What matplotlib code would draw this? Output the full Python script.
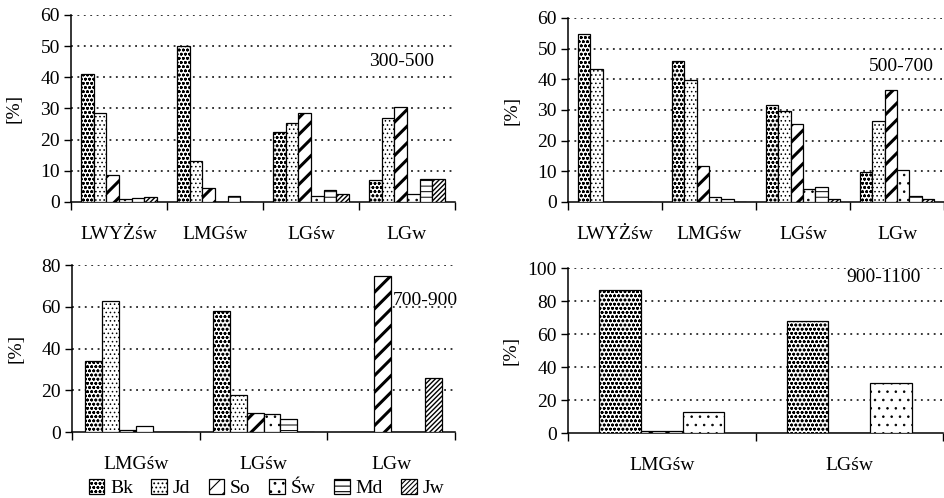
import numpy as np
import matplotlib
matplotlib.use("Agg")
from matplotlib import pyplot as plt
from matplotlib.patches import Patch

plt.rcParams['font.family'] = ['Liberation Serif', 'DejaVu Serif']
plt.rcParams['font.size'] = 14
plt.rcParams['hatch.linewidth'] = 0.8

# species names (legend order)
names = ["Bk", "Jd", "So", "Św", "Md", "Jw"]

# 300-500
tl_cats = ["LWYŻśw", "LMGśw", "LGśw", "LGw"]
tl_bk = [41.0, 50.0, 22.4, 7.0]
tl_jd = [28.7, 13.2, 25.4, 27.0]
tl_so = [8.8, 4.6, 28.4, 30.5]
tl_sw = [0.9, 0.0, 2.0, 2.7]
tl_md = [1.4, 1.9, 4.0, 7.3]
tl_jw = [1.6, 0.0, 2.7, 7.5]

# 500-700
tr_cats = ["LWYŻśw", "LMGśw", "LGśw", "LGw"]
tr_bk = [54.9, 45.9, 31.7, 9.7]
tr_jd = [43.4, 39.9, 29.6, 26.5]
tr_so = [0.0, 11.8, 25.4, 36.4]
tr_sw = [0.0, 1.5, 4.2, 10.3]
tr_md = [0.0, 1.0, 4.9, 2.1]
tr_jw = [0.0, 0.0, 1.0, 1.0]

# 700-900
bl_cats = ["LMGśw", "LGśw", "LGw"]
bl_bk = [33.9, 57.9, 0.0]
bl_jd = [62.9, 17.9, 0.0]
bl_so = [0.8, 9.3, 74.7]
bl_sw = [2.7, 8.5, 0.0]
bl_md = [0.0, 6.1, 0.0]
bl_jw = [0.0, 0.0, 26.1]

# 900-1100
br_cats = ["LMGśw", "LGśw"]
br_bk = [86.5, 67.7]
br_so = [1.5, 0.0]
br_sw = [12.8, 30.3]

HATCH = {"Bk": "oooo", "Jd": "....", "So": "//", "Św": "..", "Md": "---", "Jw": "///////"}
HATCH_LW = {"Bk": 0.8, "Jd": 0.6, "So": 2.2, "Św": 0.6, "Md": 0.7, "Jw": 1.0}


def draw_panel(ax, cats, series, snames, width, ymax, ystep, tag, tag_xy, lab_x):
    n = len(cats)
    k = len(series)
    centers = np.arange(n) + 0.5
    for j, (vals, nm) in enumerate(zip(series, snames)):
        offs = (j - (k - 1) / 2) * width
        bars = ax.bar(centers + offs, vals, width, color='white', edgecolor='black',
                      linewidth=0.9, hatch=HATCH[nm], zorder=3)
        for b in bars:
            try:
                b.set_hatch_linewidth(HATCH_LW[nm])
            except AttributeError:
                pass
    ax.set_xlim(0, n)
    ax.set_ylim(0, ymax)
    yt = np.arange(0, ymax + 1, ystep)
    ax.set_yticks(yt)
    for y in yt[1:]:
        ax.axhline(y, color='black', lw=1.1, ls=(0, (1.2, 3)), zorder=1)
    ax.set_xticks(centers)
    ax.set_xticklabels(cats)
    ax.set_xticks(np.arange(n + 1), minor=True)
    ax.tick_params(axis='x', which='major', length=0, pad=17)
    ax.tick_params(axis='x', which='minor', length=6, width=1, direction='out')
    ax.tick_params(axis='y', length=5, width=1, direction='out', pad=3)
    for s in ['top', 'right']:
        ax.spines[s].set_visible(False)
    for s in ['left', 'bottom']:
        ax.spines[s].set_linewidth(1.1)
    ax.set_ylabel('[%]')
    ax.yaxis.set_label_coords(lab_x, 0.5)
    ax.text(tag_xy[0], tag_xy[1], tag, transform=ax.transAxes, ha='center', va='center')


fig = plt.figure(figsize=(9.45, 4.98), dpi=100)
ax1 = fig.add_axes([0.0751, 0.5944, 0.4063, 0.3755])
ax2 = fig.add_axes([0.601, 0.5944, 0.398, 0.3695])
ax3 = fig.add_axes([0.0762, 0.1325, 0.4053, 0.3353])
ax4 = fig.add_axes([0.601, 0.1305, 0.397, 0.3313])

draw_panel(ax1, tl_cats, [tl_bk, tl_jd, tl_so, tl_sw, tl_md, tl_jw], names,
           0.132, 60, 10, "300-500", (0.862, 0.749), -0.125)
draw_panel(ax2, tr_cats, [tr_bk, tr_jd, tr_so, tr_sw, tr_md, tr_jw], names,
           0.132, 60, 10, "500-700", (0.886, 0.734), -0.127)
draw_panel(ax3, bl_cats, [bl_bk, bl_jd, bl_so, bl_sw, bl_md, bl_jw], names,
           0.133, 80, 20, "700-900", (0.922, 0.79), -0.123)
draw_panel(ax4, br_cats, [br_bk, br_so, br_sw], ["Bk", "So", "Św"],
           0.222, 100, 20, "900-1100", (0.84, 0.94), -0.128)

handles = []
for nm in names:
    p = Patch(facecolor='white', edgecolor='black', hatch=HATCH[nm], linewidth=0.9)
    handles.append(p)
fig.legend(handles, names, loc='center', bbox_to_anchor=(0.282, 0.02), ncol=6,
           frameon=False, handlelength=0.8, handleheight=0.8, handletextpad=0.3,
           columnspacing=0.95, borderpad=0.1)

plt.savefig("out.png", dpi=100)
